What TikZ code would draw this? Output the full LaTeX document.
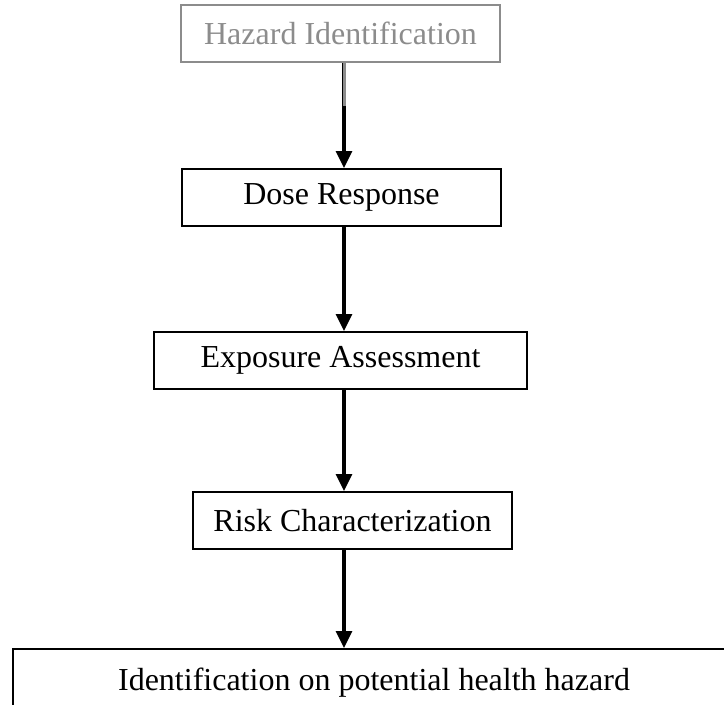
\documentclass[tikz,border=0pt]{standalone}
\usepackage{fontspec}
\setmainfont{Liberation Serif}
\usepackage{tikz}
\definecolor{fadegray}{HTML}{8C8C8C}
\usetikzlibrary{arrows.meta, calc, positioning}

\begin{document}
\begin{tikzpicture}[x=1pt, y=-1pt]

  \tikzstyle{stage} = [%
  align=center,
  draw=black,
  font=\fontsize{32}{36}\selectfont,
  inner sep=0pt,
  line width=2pt,
  minimum height=57pt,
  rectangle,
  ];

  \tikzstyle{flow} = [%
  -{Triangle[length=17pt, width=16pt]},
  draw=black,
  line width=3.2pt,
  ];

  \clip (0,0) rectangle (724,705);

  \coordinate (spine) at (344,0);

  \node[stage, draw=fadegray, text=fadegray, minimum width=319pt]
    (haz) at (340.5,33.5) {Hazard Identification};
  \node[stage, minimum width=319pt]
    (dose) at (341.5,197.5) {Dose Response};
  \node[stage, minimum width=373pt]
    (expo) at (340.5,360.5) {Exposure Assessment};
  \node[stage, minimum width=319pt]
    (risk) at (352.5,520.5) {Risk Characterization};
  \node[stage, minimum width=760pt, minimum height=120pt]
    (ibox) at (393,709) {};
  \node[anchor=base, font=\fontsize{32}{36}\selectfont, inner sep=0pt]
    (itext) at (374,690) {Identification on potential health hazard};

  \draw[flow] (haz.south -| spine) -- (dose.north -| spine);
  \draw[fadegray, line width=3pt] (haz.south -| spine) -- ++(0,43);
  \draw[flow] (dose.south -| spine) -- (expo.north -| spine);
  \draw[flow] (expo.south -| spine) -- (risk.north -| spine);
  \draw[flow] (risk.south -| spine) -- (ibox.north -| spine);

\end{tikzpicture}
\end{document}
